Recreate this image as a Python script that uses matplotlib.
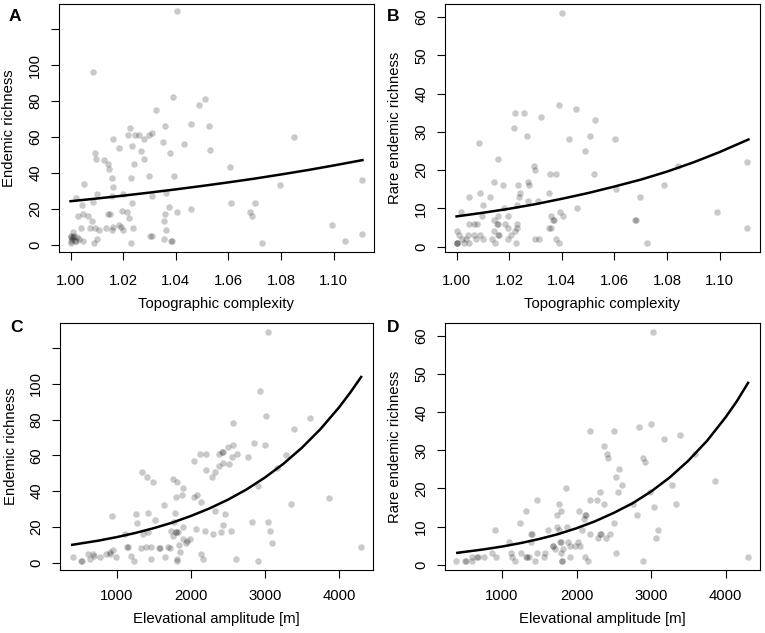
import numpy as np
import matplotlib
matplotlib.use("Agg")
import matplotlib.pyplot as plt

plt.rcParams['font.family'] = ['Liberation Sans', 'DejaVu Sans']

# --- panel A: topographic complexity vs endemic richness
tc_a = [1.0404, 1.0087, 1.039, 1.0512, 1.049, 1.0326, 1.0457, 1.0360, 1.0526, 1.0227,
        1.022, 1.0244, 1.026, 1.030, 1.031, 1.0278, 1.0161, 1.035, 1.043, 1.0233,
        1.0183, 1.053, 1.0269, 1.0379, 1.0092, 1.0095, 1.0278, 1.0129, 1.0143, 1.0242,
        1.0147, 1.0607, 1.0298, 1.0395, 1.0156, 1.0231, 1.111, 1.0051, 1.0795, 1.0848,
        1.0163, 1.0100, 1.0199, 1.0311, 1.0156, 1.0364, 1.0019, 1.0085, 1.0235, 1.061,
        1.070, 1.0042, 1.0374, 1.0459, 1.0195, 1.0214, 1.0404, 1.0683, 1.0691, 1.0046,
        1.0028, 1.0068, 1.0144, 1.0150, 1.0359, 1.0223, 1.0080, 1.0354, 1.0994, 1.0184,
        1.0192, 1.0161, 1.0039, 1.0072, 1.0093, 1.0133, 1.0237, 1.0108, 1.0159, 1.0199,
        1.0364, 1.0011, 1.111, 1.031, 1.0303, 1.0100, 1.0356, 1.0003, 1.0, 1.0014,
        1.0024, 1.0032, 1.0049, 1.0003, 1.0003, 1.009, 1.0229, 1.0382, 1.0387, 1.1042,
        1.0727, 1.002, 1.0005, 1.001, 1.0015]
end_a = [130, 96, 82, 81, 78, 75, 67, 66, 66, 65,
         61, 61, 61, 61, 62, 59, 59, 57, 56, 55,
         54, 53, 52, 51, 51, 48, 48, 47, 45, 45,
         42, 43, 38, 38, 37, 37, 36, 34, 33, 60,
         32, 28, 28, 27, 27, 29, 26, 24, 23, 23,
         23, 22, 21, 20, 19, 18, 18, 18, 16, 17,
         16, 16, 17, 17, 17, 15, 13, 13, 11, 11,
         10, 10, 9, 9, 9, 9, 9, 8, 8, 8,
         8, 7, 6, 5, 5, 3, 3, 5, 4, 5,
         4, 3, 2, 2, 1, 1, 1, 2, 2, 2,
         1, 2, 3, 4, 2]

# --- panel B: topographic complexity vs rare endemic richness
tc_b = [1.040, 1.0388, 1.0453, 1.0223, 1.0258, 1.0323, 1.0527, 1.022, 1.0268, 1.0508,
        1.0428, 1.0602, 1.0085, 1.0487, 1.0159, 1.1104, 1.0841, 1.0294, 1.0297, 1.0355,
        1.0377, 1.0523, 1.0143, 1.0270, 1.0275, 1.0178, 1.0232, 1.0789, 1.0607, 1.0091,
        1.0241, 1.0350, 1.0049, 1.0129, 1.0239, 1.0696, 1.0273, 1.0308, 1.0100, 1.0231,
        1.0457, 1.0182, 1.0018, 1.0394, 1.099, 1.0095, 1.0196, 1.0403, 1.0361, 1.0156,
        1.0365, 1.0372, 1.0141, 1.0678, 1.0684, 1.0046, 1.0068, 1.0078, 1.0153, 1.0184,
        1.0229, 1.0197, 1.0231, 1.0350, 1.0360, 1.1104, 1.0, 1.0143, 1.0222, 1.0158,
        1.0043, 1.0068, 1.0089, 1.0009, 1.0208, 1.016, 1.0021, 1.0037, 1.0072, 1.0100,
        1.0133, 1.0194, 1.0297, 1.0314, 1.0380, 1.0001, 1.0001, 1.0027, 1.0049, 1.0148,
        1.0227, 1.0388, 1.0724, 1.0002, 1.0159]
rare_b = [61, 37, 36, 35, 35, 34, 33, 31, 29, 29,
          28, 28, 27, 25, 23, 22, 21, 21, 20, 19,
          19, 19, 17, 17, 16, 16, 16, 16, 15, 14,
          14, 14, 13, 13, 13, 13, 12, 12, 11, 11,
          10, 10, 9, 9, 9, 8, 8, 8, 8, 8,
          7, 7, 7, 7, 7, 6, 6, 6, 6, 6,
          6, 5, 5, 5, 5, 5, 4, 4, 4, 3,
          3, 3, 3, 3, 3, 3, 2, 2, 2, 2,
          2, 2, 2, 2, 2, 1, 1, 1, 1, 1,
          1, 1, 1, 1, 6]

# --- panel C: elevational amplitude vs endemic richness
elev_c = [413, 524, 530, 618, 636, 685, 700, 778, 858, 905,
          915, 947, 991, 933, 1111, 1140, 1155, 1191, 1231, 1258,
          1276, 1347, 1413, 1489, 1422, 1356, 1333, 1391, 1422, 1458,
          1516, 1467, 1575, 1590, 1636, 1658, 1693, 1720, 1756, 1818,
          1796, 1880, 1893, 1791, 1733, 1764, 1795, 1805, 1827, 1902,
          1778, 1840, 1858, 1810, 1820, 1889, 1933, 1956, 1991, 2044,
          2044, 2080, 2142, 2133, 2169, 2124, 2200, 2200, 2067, 2187,
          2302, 2289, 2333, 2333, 2387, 2382, 2420, 2435, 2440, 2516,
          2507, 2551, 2564, 2573, 2627, 2769, 2849, 2929, 3004, 3018,
          3036, 3284, 3396, 3604, 3160, 2902, 3351, 3871, 4302, 2462,
          2431, 2409, 2547, 2827, 3049, 3071, 3102, 2604, 2902]
end_c = [3, 1, 1, 5, 2, 5, 4, 3, 5, 5,
         6, 7, 3, 26, 16, 9, 9, 4, 1, 27,
         22, 51, 48, 45, 28, 16, 8, 9, 17, 2,
         24, 9, 8, 8, 32, 3, 9, 8, 47, 45,
         37, 38, 42, 28, 18, 15, 17, 17, 17, 20,
         23, 10, 6, 1, 2, 13, 11, 12, 13, 57,
         37, 38, 34, 5, 2, 61, 61, 52, 19, 18,
         16, 48, 29, 51, 61, 54, 62, 62, 56, 55,
         65, 59, 66, 78, 61, 59, 67, 96, 66, 82,
         129, 60, 75, 81, 53, 43, 33, 36, 9, 27,
         21, 17, 18, 23, 23, 18, 11, 2, 1]

# --- panel D: elevational amplitude vs rare endemic richness
elev_d = [388, 499, 510, 598, 598, 660, 672, 754, 866, 920,
          911, 1089, 1121, 1134, 1170, 1241, 1255, 1315, 1330, 1358,
          1326, 1388, 1400, 1393, 1438, 1469, 1469, 1559, 1581, 1617,
          1678, 1690, 1715, 1738, 1760, 1796, 1738, 1769, 1776, 1790,
          1814, 1796, 1800, 1810, 1858, 1876, 1885, 1912, 1907, 1975,
          2019, 2046, 2028, 2073, 2095, 2112, 2125, 2118, 2153, 2176,
          2185, 2176, 2274, 2287, 2314, 2332, 2363, 2372, 2408, 2426,
          2497, 2310, 2390, 2444, 2497, 2533, 2565, 2533, 2614, 2551,
          2757, 2810, 2833, 2891, 2913, 2891, 3003, 2989, 3034, 3025,
          3061, 3092, 3168, 3275, 3338, 3383, 3593, 3861, 4295]
rare_d = [1, 1, 1, 1, 2, 2, 2, 2, 3, 2,
          9, 6, 3, 2, 1, 11, 3, 2, 2, 2,
          14, 8, 8, 6, 1, 3, 17, 2, 3, 9,
          5, 5, 4, 13, 16, 14, 10, 9, 6, 6,
          4, 3, 1, 1, 20, 10, 6, 5, 2, 5,
          6, 5, 14, 9, 12, 13, 13, 2, 1, 35,
          17, 8, 17, 7, 19, 8, 16, 31, 29, 28,
          35, 8, 7, 8, 11, 3, 25, 23, 21, 19,
          16, 13, 36, 28, 27, 1, 37, 19, 15, 61,
          7, 9, 33, 21, 16, 34, 29, 22, 2]

# fitted curves
fit_tc_x = [1.00, 1.01, 1.02, 1.03, 1.04, 1.05, 1.06, 1.07, 1.08, 1.09, 1.10, 1.111]
fit_a_y = [24.2, 25.7, 27.3, 29.0, 30.8, 32.7, 34.7, 36.8, 39.1, 41.5, 44.1, 47.1]
fit_b_y = [7.9, 8.85, 9.9, 11.1, 12.5, 14.0, 15.7, 17.5, 19.6, 22.0, 24.7, 28.0]
fit_el_x = [400, 750, 1000, 1250, 1500, 1750, 2000, 2250, 2500, 2750,
            3000, 3250, 3500, 3750, 4000, 4150, 4300]
fit_c_y = [10.0, 12.3, 14.3, 16.6, 19.3, 22.4, 26.1, 30.3, 35.2, 40.9,
           47.6, 55.3, 64.3, 74.7, 86.8, 95.0, 103.9]
fit_d_y = [3.1, 4.0, 4.75, 5.66, 6.74, 8.0, 9.56, 11.4, 13.6, 16.1,
           19.2, 22.9, 27.3, 32.5, 38.7, 42.9, 47.7]

tc_ticks = [1.00, 1.02, 1.04, 1.06, 1.08, 1.10]
el_ticks = [1000, 2000, 3000, 4000]
end_ticks = [0, 20, 40, 60, 80, 100, 120]
end_labels = ['0', '20', '40', '60', '80', '100', '']
rare_ticks = [0, 10, 20, 30, 40, 50, 60]

W, H = 765, 633
fig = plt.figure(figsize=(W / 100, H / 100), dpi=100)

def box(l, t, r, b):
    return [l / W, 1 - b / H, (r - l) / W, (b - t) / H]

def panel(rect, x, y, fx, fy, xlim, ylim, xticks, xlabels, yticks, ylabels,
          xlab, ylab, letter, lpos, xlab_y, xpad):
    ax = fig.add_axes(rect)
    ax.scatter(x, y, s=22, c='black', alpha=0.21, linewidths=0, zorder=2)
    ax.plot(fx, fy, color='black', lw=1.8, zorder=3)
    ax.set_xlim(xlim)
    ax.set_ylim(ylim)
    ax.set_xticks(xticks)
    ax.set_xticklabels(xlabels)
    ax.set_yticks(yticks)
    ax.set_yticklabels(ylabels, rotation=90, va='center')
    ax.tick_params(axis='both', length=6, width=0.8, labelsize=10.7)
    ax.tick_params(axis='x', pad=xpad)
    ax.tick_params(axis='y', pad=6)
    for s in ax.spines.values():
        s.set_linewidth(0.8)
    ax.set_xlabel(xlab, fontsize=10.7)
    ax.set_ylabel(ylab, fontsize=10.7)
    ax.xaxis.set_label_coords(0.5, xlab_y)
    ax.yaxis.set_label_coords(-0.135, 0.5)
    fig.text(lpos[0] / W, 1 - lpos[1] / H, letter, fontsize=12.5, fontweight='bold',
             ha='left', va='top')
    return ax

tc_lim = (0.9956, 1.1154)
el_lim = (235, 4460)
end_lim = (-4.1, 134.1)
rare_lim = (-1.4, 63.4)
tc_lab = ['%.2f' % v for v in tc_ticks]
el_lab = [str(v) for v in el_ticks]
rare_lab = [str(v) for v in rare_ticks]

panel(box(59, 4, 374, 252), tc_a, end_a, fit_tc_x, fit_a_y, tc_lim, end_lim,
      tc_ticks, tc_lab, end_ticks, end_labels,
      'Topographic complexity', 'Endemic richness', 'A', (9, 9), -0.18, 10)
panel(box(445, 4, 760, 252), tc_b, rare_b, fit_tc_x, fit_b_y, tc_lim, rare_lim,
      tc_ticks, tc_lab, rare_ticks, rare_lab,
      'Topographic complexity', 'Rare endemic richness', 'B', (387, 9), -0.18, 10)
panel(box(60, 323, 373, 570), elev_c, end_c, fit_el_x, fit_c_y, el_lim, end_lim,
      el_ticks, el_lab, end_ticks, end_labels,
      'Elevational amplitude [m]', 'Endemic richness', 'C', (10, 320), -0.17, 8)
panel(box(445, 323, 760, 570), elev_d, rare_d, fit_el_x, fit_d_y, el_lim, rare_lim,
      el_ticks, el_lab, rare_ticks, rare_lab,
      'Elevational amplitude [m]', 'Rare endemic richness', 'D', (387, 320), -0.17, 8)

fig.savefig('out.png', dpi=100)
